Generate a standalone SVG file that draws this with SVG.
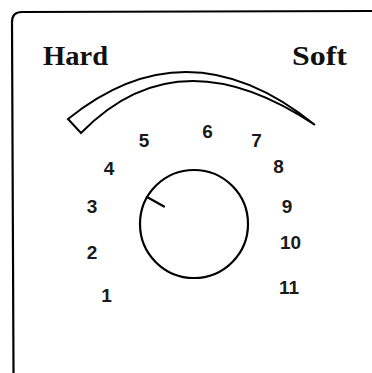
<svg xmlns="http://www.w3.org/2000/svg" width="372" height="373" viewBox="0 0 372 373">
<style>
.line{fill:none;stroke:#000;stroke-width:2.2;stroke-linecap:round;stroke-linejoin:round}
.num{font-family:"Liberation Sans",Arial,sans-serif;font-size:19px;font-weight:bold;fill:#1a1a1a;text-anchor:middle}
.lbl{font-family:"Liberation Serif","Times New Roman",serif;font-size:28px;font-weight:bold;fill:#111}
</style>
<rect width="372" height="373" fill="#fff"/>
<g id="frame">
<path class="line" d="M13.5,373 L12,22 Q12,12 22,12 L372,11"/>
</g>
<g id="labels">
<text class="lbl" x="43" y="65" textLength="65" lengthAdjust="spacingAndGlyphs">Hard</text>
<text class="lbl" x="292" y="65" textLength="55" lengthAdjust="spacingAndGlyphs">Soft</text>
</g>
<g id="scale-arc">
<path d="M68,119 Q188,22 315,125 Q178,33 81,133 Z" fill="#fff" stroke="#000" stroke-width="2" stroke-linejoin="miter"/>
</g>
<g id="dial">
<circle cx="194" cy="224" r="54" class="line"/>
<line class="line" x1="147" y1="197" x2="164" y2="206.5"/>
</g>
<g id="numbers">
<text class="num" x="106.5" y="302">1</text>
<text class="num" x="92" y="259">2</text>
<text class="num" x="92" y="213">3</text>
<text class="num" x="109" y="175">4</text>
<text class="num" x="144" y="147">5</text>
<text class="num" x="207.5" y="138">6</text>
<text class="num" x="256.5" y="147">7</text>
<text class="num" x="278.5" y="173">8</text>
<text class="num" x="287" y="213">9</text>
<text class="num" x="290.5" y="249">10</text>
<text class="num" x="289" y="294">11</text>
</g>
</svg>
